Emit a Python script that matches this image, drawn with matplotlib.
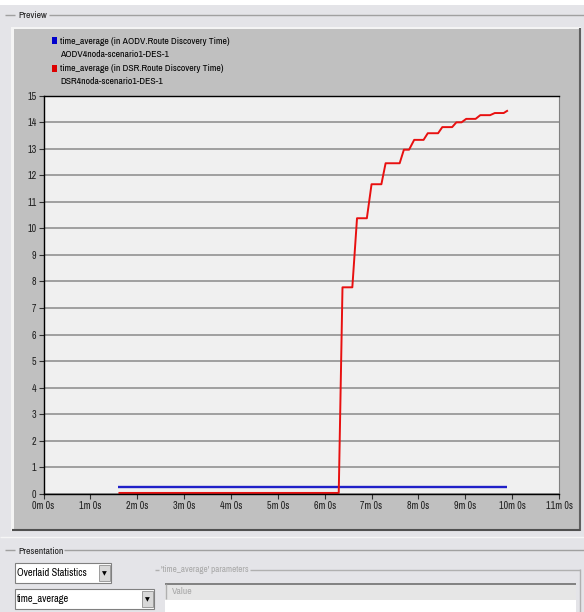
import matplotlib
matplotlib.use('Agg')
import matplotlib.pyplot as plt
from matplotlib.patches import Rectangle

plt.rcParams['font.family'] = ['Archivo Narrow', 'PT Sans Narrow', 'Roboto Condensed', 'DejaVu Sans']

# data (time in minutes)
aodv_t = [1.6, 9.9]
aodv_v = [0.26, 0.26]
dsr_t = [1.6, 6.30, 6.38, 6.59, 6.69, 6.90, 7.00, 7.21, 7.30, 7.60, 7.69, 7.80,
         7.91, 8.11, 8.20, 8.42, 8.51, 8.72, 8.81, 8.92, 9.02, 9.22, 9.32, 9.53,
         9.63, 9.82, 9.91]
dsr_v = [0.04, 0.04, 7.78, 7.78, 10.38, 10.38, 11.66, 11.66, 12.45, 12.45, 12.96, 12.96,
         13.33, 13.33, 13.58, 13.58, 13.81, 13.81, 13.99, 13.99, 14.12, 14.12, 14.26, 14.26,
         14.34, 14.34, 14.44]
x_ticks = list(range(0, 12))
x_labels = [f'{m}m 0s' for m in x_ticks]
y_ticks = list(range(0, 16))
legend_items = [
    ('time_average (in AODV.Route Discovery Time)', 'AODV4noda-scenario1-DES-1', '#0000cc'),
    ('time_average (in DSR.Route Discovery Time)', 'DSR4noda-scenario1-DES-1', '#dd0000'),
]

W, H = 584, 612
fig = plt.figure(figsize=(W / 100, H / 100), dpi=100)
fig.patch.set_facecolor('#e4e4e8')

# background axes in pixel coords for the window chrome
bg = fig.add_axes([0, 0, 1, 1], zorder=0)
bg.set_xlim(0, W)
bg.set_ylim(H, 0)
bg.axis('off')


def rect(x0, y0, x1, y1, fc, ec='none', lw=1):
    bg.add_patch(Rectangle((x0, y0), x1 - x0, y1 - y0, facecolor=fc, edgecolor=ec, linewidth=lw))


def hline(y, x0, x1, c, lw=1):
    bg.plot([x0, x1], [y, y], color=c, lw=lw, solid_capstyle='butt')


def vline(x, y0, y1, c, lw=1):
    bg.plot([x, x], [y0, y1], color=c, lw=lw, solid_capstyle='butt')


rect(0, 0, W, 5, 'white')
# "Preview" group box
hline(14.5, 5, 15, '#a0a0a0')
hline(14.5, 49, W, '#a0a0a0')
bg.text(18, 15, 'Preview', fontsize=7, va='center', ha='left', color='#202020')
# grey preview panel with bevel
rect(11, 27, 581, 531, '#f4f4f4')
rect(14, 29, 580, 530, '#c0c0c0')
vline(579.5, 28, 531, '#606060', 1.5)
hline(529.5, 12, 580, '#505050', 1.5)

for i, (name, scen, col) in enumerate(legend_items):
    y = 41 + i * 27.5
    rect(52, y - 4, 57, y + 3, col)
    bg.text(60, y, name, fontsize=7, va='center', ha='left', color='black')
    bg.text(60, y + 13.5, scen, fontsize=7, va='center', ha='left', color='black')

# presentation section
hline(537, 0, W, '#f6f6f6')
hline(549.5, 5, 15, '#a0a0a0')
hline(549.5, 64, W, '#a0a0a0')
bg.text(18, 551, 'Presentation', fontsize=7, va='center', ha='left', color='#202020')

rect(15, 563, 111, 583, 'white', '#808080', 0.8)
rect(99, 565, 110, 581, '#d8d8d8', '#909090', 0.6)
bg.text(104.5, 573.5, '\u25bc', fontsize=4.5, ha='center', va='center', color='black', family='DejaVu Sans')
bg.text(17, 573.5, 'Overlaid Statistics', fontsize=7.5, va='center', ha='left', color='black')

rect(15, 589, 154, 609, 'white', '#808080', 0.8)
rect(142, 591, 153, 607, '#d8d8d8', '#909090', 0.6)
bg.text(147.5, 599.5, '\u25bc', fontsize=4.5, ha='center', va='center', color='black', family='DejaVu Sans')
bg.text(17, 599.5, 'time_average', fontsize=7.5, va='center', ha='left', color='black')

hline(569.5, 155, 159, '#b0b0b0')
hline(569.5, 250, 580, '#b0b0b0')
vline(579.5, 569, H, '#b0b0b0')
bg.text(161, 569.5, "'time_average' parameters", fontsize=6.5, va='center', ha='left', color='#a8a8a8')
rect(165, 583, 576, 600, '#e6e6e6')
rect(165, 600, 576, H, 'white')
hline(583.5, 165, 576, '#707070', 1.2)
vline(166, 584, 599, '#b0b0b0')
bg.text(172, 592, 'Value', fontsize=7, va='center', ha='left', color='#a8a8a8')

# the chart itself
left, right, top, bottom = 43.5, 559, 95.5, 494
ax = fig.add_axes([left / W, 1 - bottom / H, (right - left) / W, (bottom - top) / H], zorder=2)
ax.set_facecolor('#f0f0f0')
ax.plot(aodv_t, aodv_v, color='#2020c8', lw=1.7, solid_capstyle='butt')
ax.plot(dsr_t, dsr_v, color='#e81010', lw=1.4, solid_capstyle='butt')
ax.set_xlim(0, 11)
ax.set_ylim(0, 15)
ax.set_xticks(x_ticks)
ax.set_xticklabels(x_labels)
ax.set_yticks(y_ticks)
ax.grid(axis='y', color='#8a8a8a', lw=1.1)
ax.set_axisbelow(True)
ax.tick_params(direction='out', length=3.5, width=0.8, color='#303030', labelsize=7.2,
               labelcolor='#202020', pad=1.5)
for s in ['left', 'bottom', 'top']:
    ax.spines[s].set_color('black')
    ax.spines[s].set_linewidth(1.0)
ax.spines['right'].set_color('#808080')

fig.savefig('out.png', dpi=100, facecolor=fig.get_facecolor())
